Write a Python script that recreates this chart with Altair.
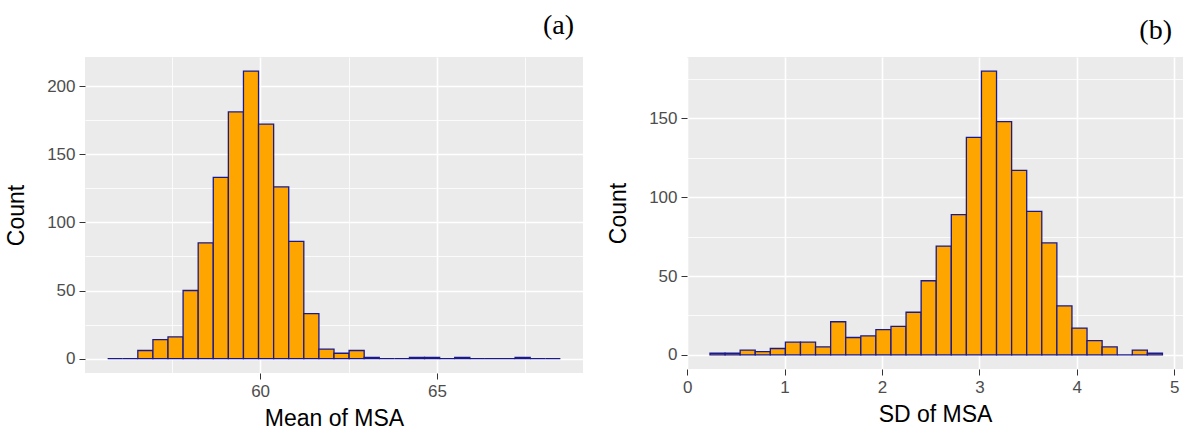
import altair as alt
import pandas as pd

# ---- Panel (a): Mean of MSA histogram (30 bins) ----
a_range = [55.69, 68.49]
a_counts = [0, 0, 6, 14, 16, 50, 85, 133, 181, 211,
            172, 126, 86, 33, 7, 4, 6, 1, 0, 0,
            1, 1, 0, 1, 0, 0, 0, 1, 0, 0]

# ---- Panel (b): SD of MSA histogram (30 bins) ----
b_range = [0.234, 4.879]
b_counts = [1, 1, 3, 2, 4, 8, 8, 5, 21, 11,
            12, 16, 18, 27, 47, 69, 89, 138, 180, 148,
            117, 91, 71, 31, 17, 9, 5, 0, 3, 1]

a_xticks = [57.5, 60, 62.5, 65, 67.5]
a_yticks = [0, 25, 50, 75, 100, 125, 150, 175, 200]
b_xticks = [0, 0.5, 1, 1.5, 2, 2.5, 3, 3.5, 4, 4.5, 5]
b_yticks = [0, 25, 50, 75, 100, 125, 150, 175]


def hist_df(rng, counts):
    n = len(counts)
    w = (rng[1] - rng[0]) / n
    return pd.DataFrame({
        "x0": [rng[0] + i * w for i in range(n)],
        "x1": [rng[0] + (i + 1) * w for i in range(n)],
        "count": counts,
        "base": [0] * n,
    })


SANS = "Liberation Sans"


def make_axis(values, major_test, title, tpad):
    return alt.Axis(
        values=values,
        title=title,
        format="d",
        labelExpr=f"({major_test}) ? datum.label : ''",
        gridWidth={"condition": {"test": major_test, "value": 1.6}, "value": 0.8},
        tickOpacity={"condition": {"test": major_test, "value": 1}, "value": 0},
        grid=True,
        gridColor="white",
        domain=False,
        ticks=True,
        tickColor="#333333",
        tickWidth=1,
        tickSize=6,
        labelPadding=4,
        labelFont=SANS,
        labelFontSize=17,
        labelColor="#4D4D4D",
        labelFlush=False,
        titleFont=SANS,
        titleFontSize=23,
        titleFontWeight="normal",
        titleColor="black",
        titlePadding=tpad,
    )


def panel(rng, counts, xdom, ydom, xticks, yticks, xtest, xtitle, label, w, h, dx, off):
    df = hist_df(rng, counts)
    return alt.Chart(df).mark_bar(
        fill="#FFA500", stroke="#1A1A8C", strokeWidth=1.3
    ).encode(
        x=alt.X("x0:Q", scale=alt.Scale(domain=xdom, nice=False, zero=False),
                axis=make_axis(xticks, xtest, xtitle, 8)),
        x2="x1:Q",
        y=alt.Y("count:Q", scale=alt.Scale(domain=ydom, nice=False),
                axis=make_axis(yticks, "datum.value % 50 === 0", "Count", 18)),
        y2="base:Q",
    ).properties(
        width=w, height=h,
        title=alt.TitleParams(label, anchor="end", frame="group", font="Liberation Serif",
                              fontSize=28, fontWeight="normal", color="black",
                              baseline="bottom", dx=dx, offset=off),
    )


pa = panel(a_range, a_counts, [55.05, 69.13], [-10.5, 221.3], a_xticks, a_yticks,
           "datum.value % 5 === 0", "Mean of MSA", "(a)", 498, 316, -9, -11)
pb = panel(b_range, b_counts, [-0.002, 5.09], [-9, 189], b_xticks, b_yticks,
           "datum.value % 1 === 0", "SD of MSA", "(b)", 496, 312, -11, -16)

chart = alt.hconcat(pa, pb, spacing=104, bounds="flush").configure(
    padding={"left": 5, "top": 12, "right": 0, "bottom": 0},
    background="white",
).configure_view(fill="#EBEBEB", stroke=None)

chart.save("out.html", embed_options={"renderer": "svg", "actions": False})
